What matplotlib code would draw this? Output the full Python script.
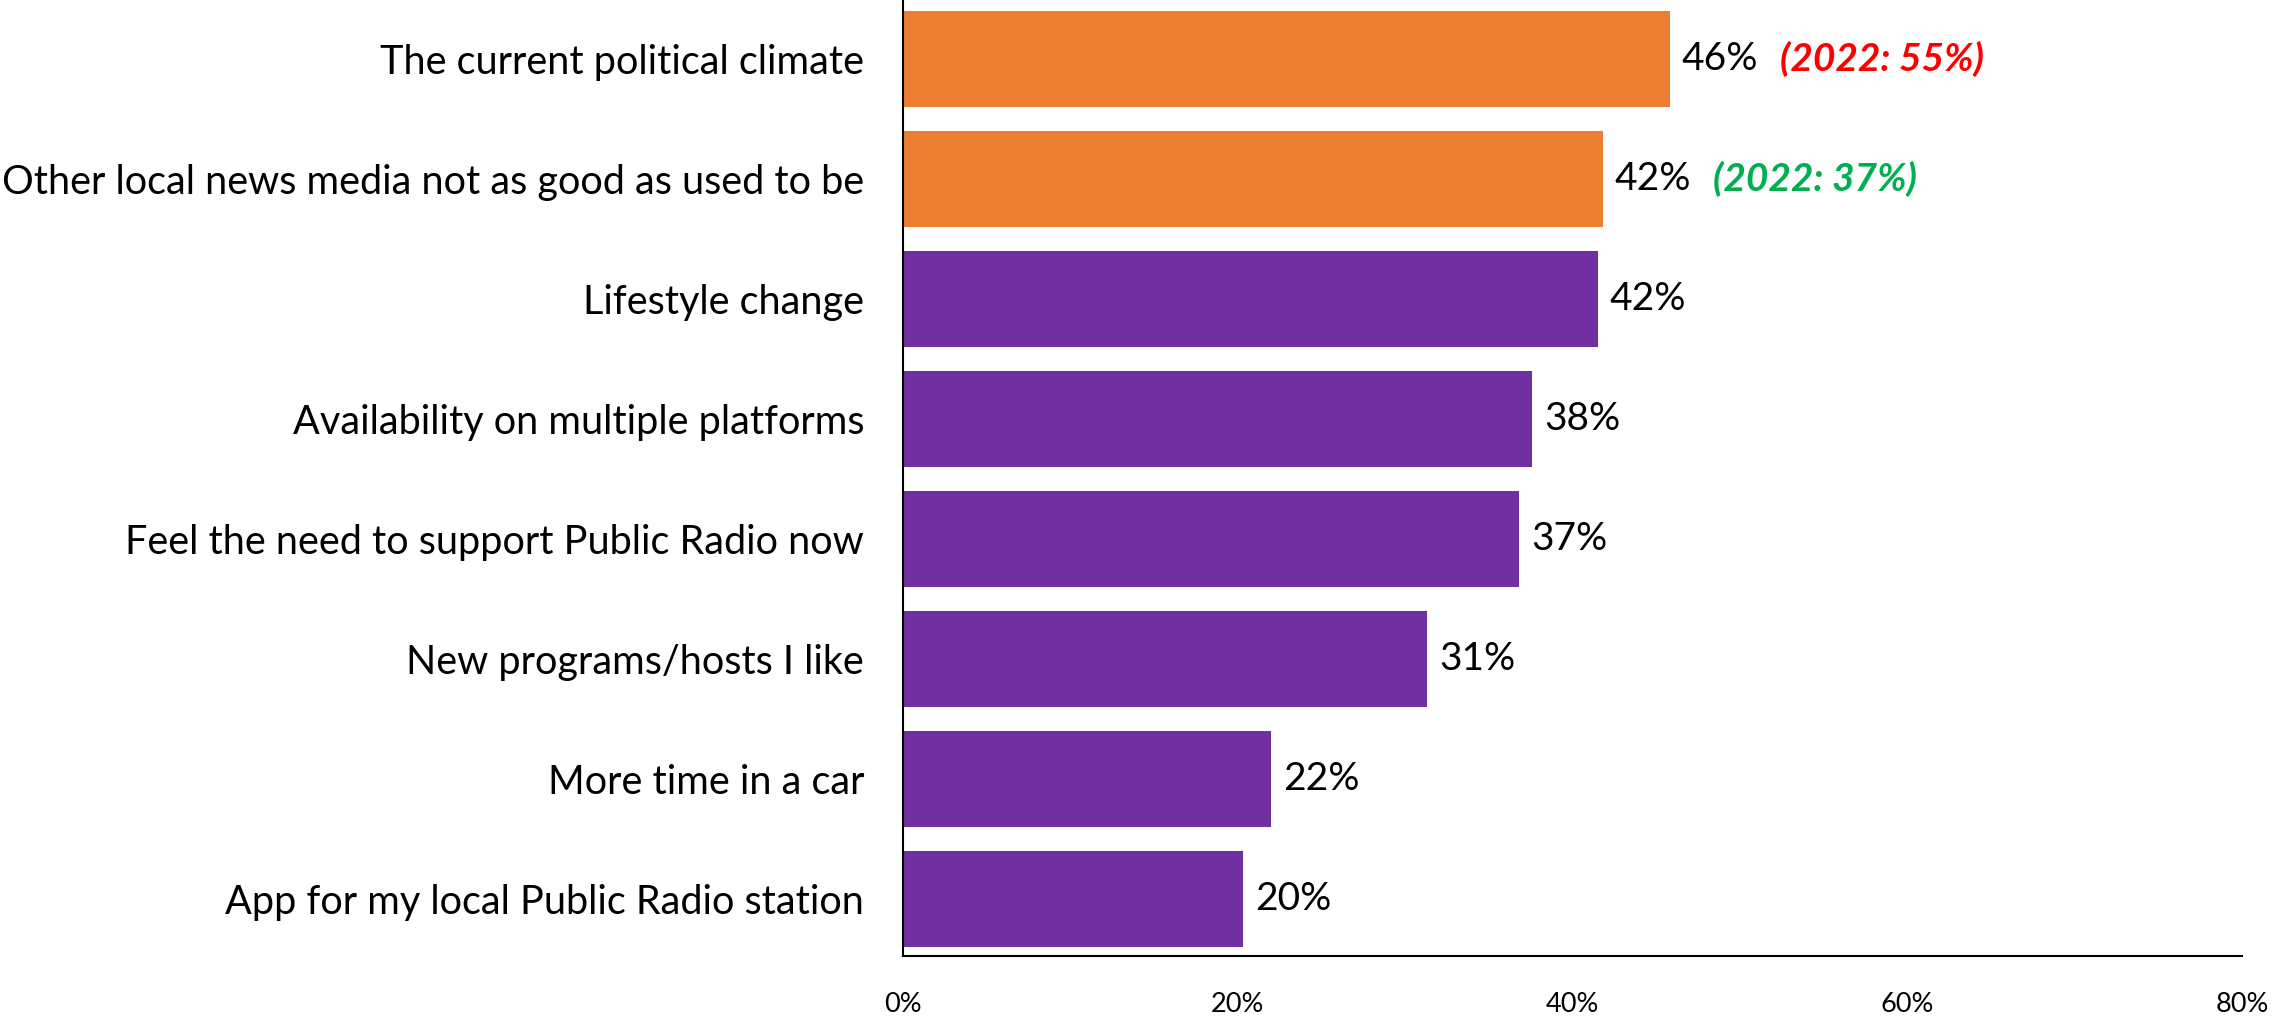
import matplotlib
matplotlib.use("Agg")
import matplotlib.pyplot as plt

categories = [
    "The current political climate",
    "Other local news media not as good as used to be",
    "Lifestyle change",
    "Availability on multiple platforms",
    "Feel the need to support Public Radio now",
    "New programs/hosts I like",
    "More time in a car",
    "App for my local Public Radio station",
]
values = [45.8, 41.8, 41.5, 37.6, 36.8, 31.3, 22.0, 20.3]
value_labels = ["46%", "42%", "42%", "38%", "37%", "31%", "22%", "20%"]
highlight = [True, True, False, False, False, False, False, False]
prior_labels = ["(2022: 55%)", "(2022: 37%)"]
prior_colors = ["#FF0000", "#00B050"]
xticks = [0, 20, 40, 60, 80]
xtick_labels = ["0%", "20%", "40%", "60%", "80%"]

ORANGE = "#ED7D31"
PURPLE = "#7030A0"
FONT = ["Lato", "DejaVu Sans"]

W, H = 2272, 1019
fig = plt.figure(figsize=(W / 100, H / 100), dpi=100)
left, right = 903 / W, 2242 / W
bottom = 1 - 956 / H
ax = fig.add_axes([left, bottom, right - left, 1 - bottom])

ypos = list(range(len(categories)))
colors = [ORANGE if h else PURPLE for h in highlight]
bars = ax.barh(ypos, values, height=0.8, color=colors)
ax.set_xlim(0, 80)
ax.set_ylim(7.475, -0.49)

ax.set_yticks(ypos)
ax.set_yticklabels(categories, fontsize=28.5, family=FONT)
ax.tick_params(axis="y", length=0, pad=28)
ax.set_xticks(xticks)
ax.set_xticklabels(xtick_labels, fontsize=19.5, family=FONT)
ax.tick_params(axis="x", length=0, pad=26)

for s in ["top", "right"]:
    ax.spines[s].set_visible(False)
for s in ["left", "bottom"]:
    ax.spines[s].set_linewidth(1.5)
    ax.spines[s].set_color("black")

for i, (v, lab) in enumerate(zip(values, value_labels)):
    ax.annotate(lab, (v, i), xytext=(12, 0), textcoords="offset pixels",
                va="center", ha="left", fontsize=28, family=FONT)
    if i < len(prior_labels):
        ax.annotate(prior_labels[i], (v, i), xytext=(110, 0), textcoords="offset pixels",
                    va="center", ha="left", fontsize=28, family=FONT,
                    fontweight="bold", fontstyle="italic", color=prior_colors[i])

fig.savefig("out.png", dpi=100)
